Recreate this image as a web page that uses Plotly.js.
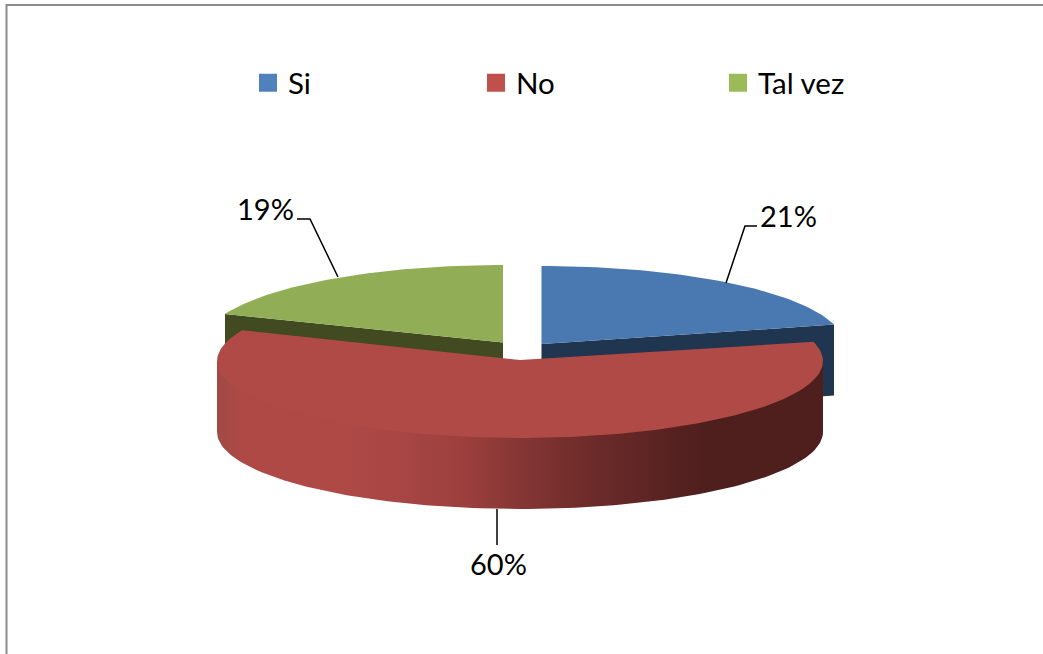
<!DOCTYPE html>
<html><head><meta charset="utf-8">
<script src="https://cdn.plot.ly/plotly-3.0.1.min.js"></script>
<style>html,body{margin:0;padding:0;background:#fff}#c{width:1043px;height:654px}</style></head>
<body><div id="c"></div>
<script>
const categories = ['Si','No','Tal vez'];
const shares = [21,60,19];
const legendColors = ['#4f81bd','#c0504d','#9bbb59'];
const topColors = ['#4a78b0','#b04a47','#91ae56'];
const wallColors = ['#1f3550','#4f1f1e','#414a20'];
// projected pie geometry per slice: centre, radii, perspective stretch of the closing edge (degrees)
const discs = [
  {cx:541.5,cy:344,rx:302,ry:78,stretch:0},
  {cx:520,cy:361,rx:303,ry:77,stretch:2},
  {cx:503,cy:342.5,rx:299,ry:77.5,stretch:0}
];
const depth = 71;
const labelPos = [[788,215],[498,563],[265,208]];
const leaders = [
  {x:[726,745,757],y:[283,226,226]},
  {x:[497,497],y:[509,545]},
  {x:[338,310,297],y:[277,219,219]}
];
const total = shares.reduce((a,b)=>a+b,0);
const starts = []; let acc = 0;
shares.forEach(s=>{starts.push(acc/total*360); acc+=s;});
function pt(d,deg,dy){const r=deg*Math.PI/180;
  return [d.cx+d.rx*Math.sin(r), d.cy-d.ry*Math.cos(r)+(dy||0)];}
function arc(d,a,b,dy){const o=[];const n=Math.max(2,Math.ceil(Math.abs(b-a)/1.5));
  for(let i=0;i<=n;i++)o.push(pt(d,a+(b-a)*i/n,dy));return o;}
function poly(points,extra){return Object.assign({x:points.map(p=>p[0]),y:points.map(p=>p[1]),
  type:'scatter',mode:'lines',fill:'toself',line:{width:0},hoverinfo:'skip',showlegend:false},extra);}
const ends = shares.map((s,i)=>starts[i]+s/total*360+discs[i].stretch);
const traces = [];
// cut-face walls of Si and Tal vez
{const d=discs[0],e=pt(d,ends[0]);
 traces.push(poly([[d.cx,d.cy],e,[e[0],e[1]+depth],[d.cx,d.cy+depth]],{fillcolor:wallColors[0]}));}
{const d=discs[2],e=pt(d,starts[2]);
 traces.push(poly([[d.cx,d.cy],e,[e[0],e[1]+depth],[d.cx,d.cy+depth]],{fillcolor:wallColors[2]}));}
// top faces of Si and Tal vez
[0,2].forEach(i=>{const d=discs[i];
 traces.push(poly([[d.cx,d.cy]].concat(arc(d,starts[i],ends[i])),{fillcolor:topColors[i]}));});
// No: outer wall (runs slightly under the top face so no seam shows) and top
{const d=discs[1];
 const top=arc(d,90,270,-4), bot=arc(d,270,90,depth);
 traces.push(poly(top.concat(bot),{fillcolor:'rgba(0,0,0,0)',fillgradient:{type:'horizontal',start:217,stop:823,
   colorscale:[[0,'#a04a46'],[0.04,'#ae4946'],[0.2,'#ae4946'],[0.3,'#a84644'],[0.417,'#9a3f3d'],[0.5,'#853634'],[0.63,'#6a2a29'],[0.8,'#4f1f1e'],[1,'#4f1f1e']]}}));
 traces.push(poly([[d.cx,d.cy-1]].concat(arc(d,starts[1],ends[1])),{fillcolor:topColors[1]}));}
// leader lines
leaders.forEach(l=>traces.push({x:l.x,y:l.y,type:'scatter',mode:'lines',line:{color:'#000',width:1.5},hoverinfo:'skip',showlegend:false}));
// legend entries
categories.forEach((c,i)=>traces.push({x:[null],y:[null],type:'scatter',mode:'markers',name:c,
  marker:{symbol:'square',size:16,color:legendColors[i],line:{color:legendColors[i],width:2}},
  showlegend:true,legend:i===0?'legend':'legend'+(i+1)}));
const lg=(x)=>({x:x,xref:'paper',xanchor:'left',y:1-83/654,yref:'paper',yanchor:'middle',bgcolor:'rgba(0,0,0,0)',
  font:{family:'Lato',size:29.5,color:'#000'},itemclick:false,itemdoubleclick:false});
const layout = {
  width:1043,height:654,margin:{l:0,r:0,t:0,b:0},paper_bgcolor:'#fff',plot_bgcolor:'#fff',
  xaxis:{range:[0,1043],visible:false,fixedrange:true},
  yaxis:{range:[654,0],visible:false,fixedrange:true},
  legend:lg(248/1043),legend2:lg(476/1043),legend3:lg(718/1043),
  shapes:[{type:'path',path:'M 6.5 654 L 6.5 5 L 1043 5',xref:'x',yref:'y',line:{color:'#8c8c8c',width:2}}],
  annotations:shares.map((s,i)=>({x:labelPos[i][0],y:labelPos[i][1],xref:'x',yref:'y',text:s+'%',showarrow:false,
    font:{family:'Lato',size:29,color:'#000'},xanchor:'center',yanchor:'middle'}))
};
Plotly.newPlot('c',traces,layout,{displayModeBar:false});
</script></body></html>
